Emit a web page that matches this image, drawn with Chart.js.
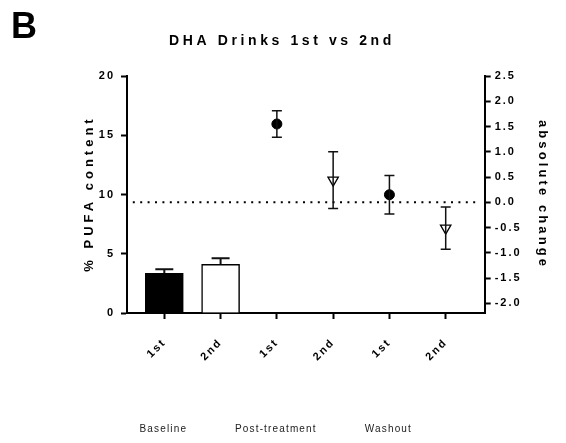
<!DOCTYPE html>
<html>
<head>
<meta charset="utf-8">
<script src="https://cdn.jsdelivr.net/npm/chart.js@4"></script>
<style>
  body { margin: 0; background: #fff; }
  canvas { display: block; }
</style>
</head>
<body>
<canvas id="chart" width="566" height="443"></canvas>
<script>
// categories along the x axis
const cats = ['1st', '2nd', '1st', '2nd', '1st', '2nd'];
const groups = ['Baseline', 'Post-treatment', 'Washout'];
const groupAt = [0, 2, 4];

// tick labels
const leftTicks = [0, 5, 10, 15, 20];
const rightTicks = [-2.0, -1.5, -1.0, -0.5, 0.0, 0.5, 1.0, 1.5, 2.0, 2.5];

// baseline % PUFA content (bars, left axis)
const baseVals = [3.35, 4.1];
const baseErr = [0.35, 0.52];

// absolute change (right axis)
const firstVals = [1.55, 0.15];
const firstErr = [0.26, 0.38];
const secondVals = [0.44, -0.51];
const secondErr = [0.56, 0.42];

const FONT = '"Liberation Sans", Arial, sans-serif';

function spaced(ctx, px) { ctx.letterSpacing = px + 'px'; }

const setSpacing = {
  id: 'setSpacing',
  beforeUpdate(c) { spaced(c.ctx, 2); },
  beforeDraw(c) { spaced(c.ctx, 2); }
};

const errorBars = {
  id: 'errorBars',
  afterDatasetsDraw(chart) {
    const ctx = chart.ctx;
    chart.data.datasets.forEach((ds, di) => {
      if (!ds.errors) return;
      const meta = chart.getDatasetMeta(di);
      const scale = chart.scales[ds.yAxisID];
      ctx.save();
      ctx.strokeStyle = '#111';
      ctx.lineWidth = ds.errWidth;
      meta.data.forEach((el, i) => {
        const v = ds.data[i].y, e = ds.errors[i];
        const top = scale.getPixelForValue(v + e);
        const bot = ds.upOnly ? el.y : scale.getPixelForValue(v - e);
        const w = ds.capWidth / 2;
        ctx.beginPath();
        ctx.moveTo(el.x, bot); ctx.lineTo(el.x, top);
        ctx.moveTo(el.x - w, top); ctx.lineTo(el.x + w, top);
        if (!ds.upOnly) { ctx.moveTo(el.x - w, bot); ctx.lineTo(el.x + w, bot); }
        ctx.stroke();
      });
      ctx.restore();
    });
  }
};

const texts = {
  id: 'texts',
  afterDraw(chart) {
    const ctx = chart.ctx;
    const xs = chart.scales.x, ca = chart.chartArea;
    ctx.save();
    ctx.fillStyle = '#000';
    ctx.textBaseline = 'alphabetic';

    spaced(ctx, 0);
    ctx.font = 'bold 36px ' + FONT;
    ctx.textAlign = 'left';
    ctx.fillText('B', 11, 38);

    spaced(ctx, 3.6);
    ctx.font = 'bold 14px ' + FONT;
    ctx.textAlign = 'center';
    ctx.fillText('DHA Drinks 1st vs 2nd', 282, 45);

    // axis titles
    const midY = (ca.top + ca.bottom) / 2;
    ctx.font = 'bold 13px ' + FONT;
    ctx.textBaseline = 'middle';
    ctx.save();
    spaced(ctx, 4);
    ctx.translate(89, midY);
    ctx.rotate(-Math.PI / 2);
    ctx.fillText('% PUFA content', 1, 0);
    ctx.restore();
    ctx.save();
    spaced(ctx, 3.1);
    ctx.translate(543, midY);
    ctx.rotate(Math.PI / 2);
    ctx.fillText('absolute change', 0, 0);
    ctx.restore();

    // group labels under the axis
    spaced(ctx, 1.15);
    ctx.font = '10px ' + FONT;
    ctx.fillStyle = '#222';
    ctx.textBaseline = 'alphabetic';
    groups.forEach((g, i) => {
      ctx.fillText(g, xs.getPixelForValue(groupAt[i]) - 1, 432);
    });
    ctx.restore();
  }
};

const tickFont = { family: FONT, size: 11, weight: 'bold' };
const axisGrid = { display: true, offset: false, drawOnChartArea: false, drawTicks: true, tickLength: 6, tickWidth: 2, tickColor: '#000' };
const axisBorder = { display: true, color: '#000', width: 2 };

new Chart(document.getElementById('chart'), {
  data: {
    datasets: [
      {
        type: 'bar',
        data: baseVals.map((y, i) => ({ x: i, y })),
        backgroundColor: ['#000', '#fff'],
        borderColor: '#000',
        borderWidth: 1.5,
        barThickness: 38,
        yAxisID: 'y',
        errors: baseErr, upOnly: true, capWidth: 18, errWidth: 2
      },
      {
        type: 'line',
        data: firstVals.map((y, i) => ({ x: 2 + 2 * i, y })),
        showLine: false,
        pointStyle: 'circle',
        pointRadius: 5,
        backgroundColor: '#000',
        borderColor: '#000',
        yAxisID: 'y2',
        errors: firstErr, capWidth: 10, errWidth: 1.5
      },
      {
        type: 'line',
        data: secondVals.map((y, i) => ({ x: 3 + 2 * i, y })),
        showLine: false,
        pointStyle: 'triangle',
        rotation: 180,
        pointRadius: 6,
        pointBorderWidth: 1.3,
        backgroundColor: '#fff',
        borderColor: '#000',
        yAxisID: 'y2',
        errors: secondErr, capWidth: 10, errWidth: 1.5
      },
      {
        type: 'line',
        data: [{ x: -0.56, y: 0 }, { x: 5.56, y: 0 }],
        borderColor: '#000',
        borderWidth: 2,
        borderDash: [2, 5.4],
        pointRadius: 0,
        yAxisID: 'y2'
      }
    ]
  },
  options: {
    responsive: false,
    animation: false,
    events: [],
    layout: { padding: { top: 76, left: 0, right: 0, bottom: 0 } },
    plugins: { legend: { display: false }, title: { display: false }, tooltip: { enabled: false } },
    scales: {
      x: {
        type: 'linear',
        offset: false,
        min: -0.663,
        max: 5.693,
        afterBuildTicks: s => { s.ticks = cats.map((_, i) => ({ value: i })); },
        afterFit: s => { s.height = 130; },
        ticks: {
          callback: v => cats[v],
          autoSkip: false,
          minRotation: 45,
          maxRotation: 45,
          padding: 17,
          color: '#000',
          font: tickFont
        },
        grid: axisGrid,
        border: axisBorder
      },
      y: {
        position: 'left',
        min: 0,
        max: 20,
        afterFit: s => { s.width = 127; },
        afterBuildTicks: s => { s.ticks = leftTicks.map(v => ({ value: v })); },
        ticks: { padding: 6, color: '#000', font: tickFont },
        grid: axisGrid,
        border: axisBorder
      },
      y2: {
        position: 'right',
        min: -2.19,
        max: 2.5,
        afterFit: s => { s.width = 81.3; },
        afterBuildTicks: s => { s.ticks = rightTicks.map(v => ({ value: v })); },
        ticks: { padding: 4, color: '#000', font: tickFont, callback: v => v.toFixed(1) },
        grid: axisGrid,
        border: axisBorder
      }
    }
  },
  plugins: [setSpacing, errorBars, texts]
});
</script>
</body>
</html>
